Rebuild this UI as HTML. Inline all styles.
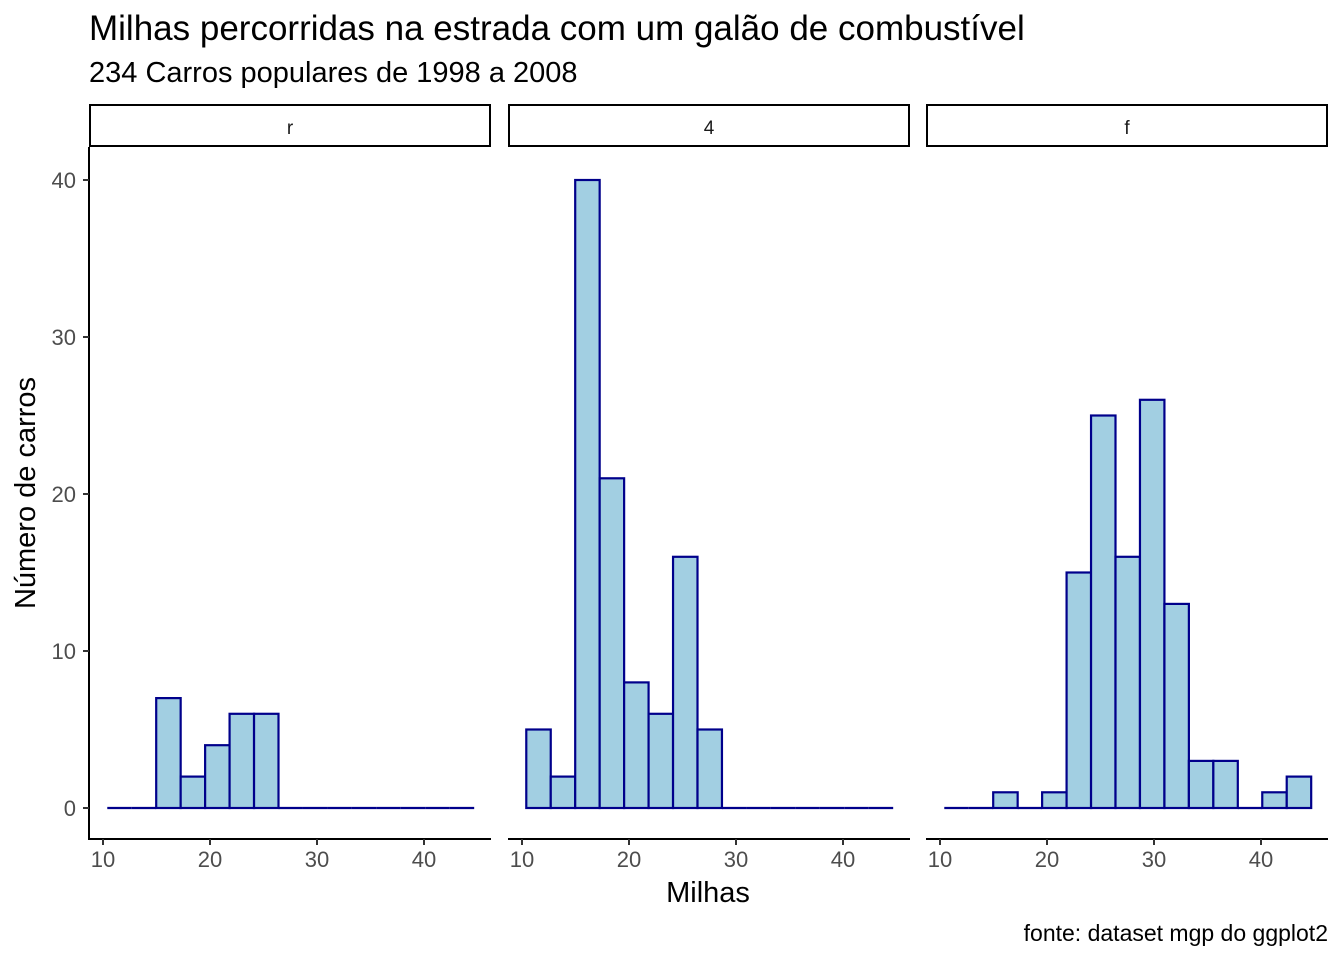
<!DOCTYPE html>
<html><head><meta charset="utf-8"><style>
body{margin:0;background:#fff;}
svg{font-family:"Liberation Sans",Arial,sans-serif;display:block;}
</style></head><body>
<svg id="chart" width="1344" height="960" xmlns="http://www.w3.org/2000/svg">
<text x="89" y="40" font-size="35" fill="#000">Milhas percorridas na estrada com um galão de combustível</text>
<text x="89" y="82" font-size="29" fill="#000">234 Carros populares de 1998 a 2008</text>
<text x="708" y="902" font-size="29" text-anchor="middle" fill="#000">Milhas</text>
<text transform="translate(35,493) rotate(-90)" font-size="29" text-anchor="middle" fill="#000">Número de carros</text>
<text x="1328" y="941" font-size="23" text-anchor="end" fill="#000">fonte: dataset mgp do ggplot2</text>
<g id="plots"></g>
</svg>
<script>
const panels = ["r", "4", "f"];
const binStart = 10.4;
const binWidth = 2.286;
const countsR = [0,0,7,2,4,6,6,0,0,0,0,0,0,0,0];
const counts4 = [5,2,40,21,8,6,16,5,0,0,0,0,0,0,0];
const countsF = [0,0,1,0,1,15,25,16,26,13,3,3,0,1,2];
const yTicks = [0,10,20,30,40];
const xTicks = [10,20,30,40];
const allCounts = [countsR, counts4, countsF];

const NS = "http://www.w3.org/2000/svg";
const g = document.getElementById("plots");
const panelLeft = [89, 508, 926];
const panelW = 402;
const plotTop = 147, plotBottom = 839;
const y = v => 808 - v * 15.7;
function mk(tag, attrs, parent){const e=document.createElementNS(NS,tag);for(const k in attrs)e.setAttribute(k,attrs[k]);(parent||g).appendChild(e);return e;}

panels.forEach((p, i) => {
  const L = panelLeft[i];
  const x = v => L + 14 + (v - 10) * 10.7;
  const strip = mk("rect",{x:L+1,y:105,width:panelW-2,height:41,fill:"#fff",stroke:"#000","stroke-width":2});
  
  
  const st = mk("text",{x:L+panelW/2,y:134,"font-size":19,"text-anchor":"middle",fill:"#1a1a1a"});
  st.textContent = p;
  
  
  allCounts[i].forEach((c, k) => {
    const x0 = x(binStart + k * binWidth), x1 = x(binStart + (k + 1) * binWidth);
    let r;
    if (c > 0) {
      r = mk("rect",{x:x0,y:y(c),width:x1-x0,height:y(0)-y(c),fill:"#a2cfe2",stroke:"#00008b","stroke-width":2.2});
    } else {
      r = mk("line",{x1:x0,x2:x1,y1:y(0),y2:y(0),stroke:"#00008b","stroke-width":2.2});
    }
    
    
  });
  const xa = mk("line",{x1:L,x2:L+panelW,y1:plotBottom,y2:plotBottom,stroke:"#000","stroke-width":2});
  
  
  xTicks.forEach(t => {
    mk("line",{x1:x(t),x2:x(t),y1:plotBottom,y2:plotBottom+6,stroke:"#333","stroke-width":2});
    const tx = mk("text",{x:x(t),y:plotBottom+28,"font-size":22,"text-anchor":"middle",fill:"#4d4d4d"});
    tx.textContent = t;
    
    
  });
});
const ya = mk("line",{x1:89,x2:89,y1:plotTop,y2:plotBottom+1,stroke:"#000","stroke-width":2});


yTicks.forEach(t => {
  mk("line",{x1:83,x2:89,y1:y(t),y2:y(t),stroke:"#333","stroke-width":2});
  const tx = mk("text",{x:76,y:y(t)+8,"font-size":22,"text-anchor":"end",fill:"#4d4d4d"});
  tx.textContent = t;
  
  
});
</script>
</body></html>
